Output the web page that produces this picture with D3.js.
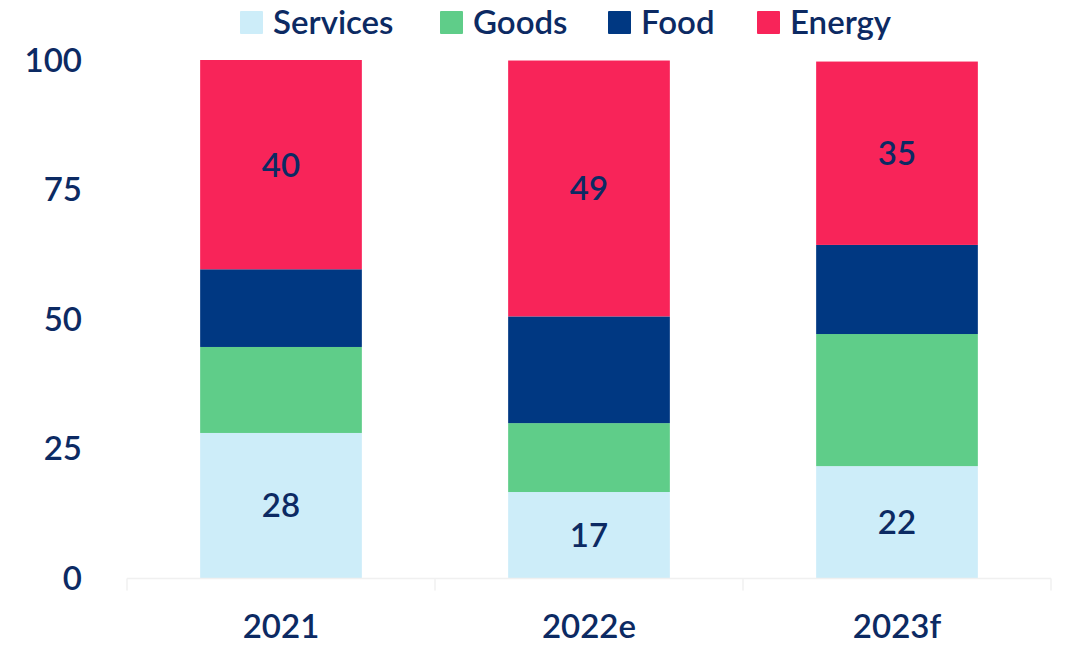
<!DOCTYPE html>
<html>
<head>
<meta charset="utf-8">
<script src="https://cdn.jsdelivr.net/npm/d3@7"></script>
<style>
  html, body { margin: 0; padding: 0; background: #fff; }
  svg text { font-family: Lato, "Open Sans", sans-serif; font-weight: 600; fill: #0c2a63; }
</style>
</head>
<body>
<div id="chart"></div>
<script>
// categories and series (percent shares)
const years = ['2021', '2022e', '2023f'];
const seriesNames = ['Services', 'Goods', 'Food', 'Energy'];
const services = [28.0, 16.6, 21.6];
const goods = [16.6, 13.3, 25.5];
const food = [15.0, 20.6, 17.2];
const energy = [40.4, 49.4, 35.4];
const yTicks = [0, 25, 50, 75, 100];
// which segments carry a value label
const labelled = ['Services', 'Energy'];

const colors = {
  Services: '#cdedf9',
  Goods: '#5fcd89',
  Food: '#003882',
  Energy: '#f82459'
};

const width = 1066;
const height = 645;
const margin = { top: 60, right: 15, bottom: 67, left: 127 };

const rows = years.map((y, i) => ({
  year: y,
  Services: services[i],
  Goods: goods[i],
  Food: food[i],
  Energy: energy[i]
}));

const stacked = d3.stack().keys(seriesNames)(rows);

const svg = d3.select('#chart')
  .append('svg')
  .attr('width', width)
  .attr('height', height);

const x = d3.scaleBand()
  .domain(years)
  .range([margin.left, width - margin.right])
  .paddingInner(0)
  .paddingOuter(0);

const y = d3.scaleLinear()
  .domain([0, 100])
  .range([height - margin.bottom, margin.top]);

const barW = x.bandwidth() * 0.525;
const barOff = (x.bandwidth() - barW) / 2;

// bars
const layers = svg.append('g')
  .selectAll('g')
  .data(stacked)
  .join('g')
  .attr('fill', d => colors[d.key]);

layers.selectAll('rect')
  .data(d => d)
  .join('rect')
  .attr('x', d => x(d.data.year) + barOff)
  .attr('width', barW)
  .attr('y', d => y(d[1]))
  .attr('height', d => y(d[0]) - y(d[1]));

// value labels
stacked.filter(s => labelled.includes(s.key)).forEach(s => {
  svg.append('g')
    .selectAll('text')
    .data(s)
    .join('text')
    .attr('x', d => x(d.data.year) + x.bandwidth() / 2)
    .attr('y', d => (y(d[0]) + y(d[1])) / 2)
    .attr('dy', '0.36em')
    .attr('text-anchor', 'middle')
    .style('font-size', '33px')
    .text(d => Math.round(d[1] - d[0]));
});

// x axis: faint baseline with ticks between categories
const xAxis = svg.append('g')
  .attr('transform', `translate(0,${y(0) + 0.5})`);

xAxis.append('line')
  .attr('x1', margin.left)
  .attr('x2', width - margin.right)
  .attr('stroke', '#f0f0f0')
  .attr('stroke-width', 1.5);

const bounds = years.map(d => x(d)).concat([x(years[years.length - 1]) + x.bandwidth()]);
xAxis.selectAll('.sep')
  .data(bounds)
  .join('line')
  .attr('class', 'sep')
  .attr('x1', d => d)
  .attr('x2', d => d)
  .attr('y1', 0)
  .attr('y2', 12)
  .attr('stroke', '#f0f0f0')
  .attr('stroke-width', 1.5);

xAxis.selectAll('.cat')
  .data(years)
  .join('text')
  .attr('class', 'cat')
  .attr('x', d => x(d) + x.bandwidth() / 2)
  .attr('y', 59)
  .attr('text-anchor', 'middle')
  .style('font-size', '33px')
  .text(d => d);

// y axis labels only
svg.append('g')
  .selectAll('text')
  .data(yTicks)
  .join('text')
  .attr('x', 82)
  .attr('y', d => y(d))
  .attr('dy', '0.36em')
  .attr('text-anchor', 'end')
  .style('font-size', '33px')
  .text(d => d);

// legend
const legendPos = [240, 440, 608, 757];
const legend = svg.append('g')
  .selectAll('g')
  .data(seriesNames)
  .join('g')
  .attr('transform', (d, i) => `translate(${legendPos[i]},11)`);

legend.append('rect')
  .attr('width', 23)
  .attr('height', 23)
  .attr('rx', 1)
  .attr('fill', d => colors[d]);

legend.append('text')
  .attr('x', 33)
  .attr('y', 23)
  .style('font-size', '33px')
  .text(d => d);
</script>
</body>
</html>
